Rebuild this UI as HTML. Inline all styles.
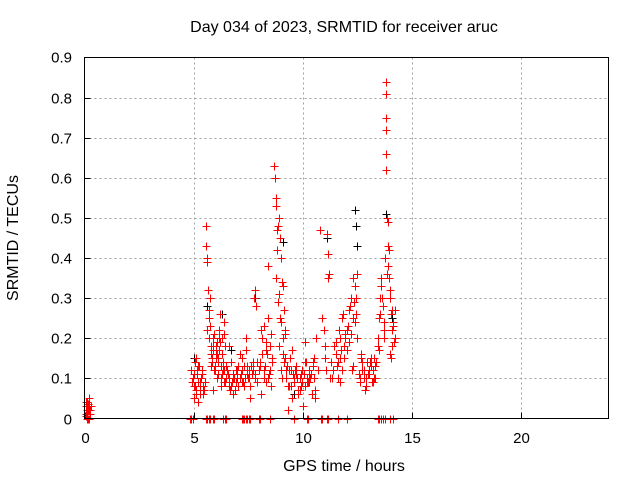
<!DOCTYPE html>
<html><head><meta charset="utf-8"><style>
body{margin:0;background:#fff;}
svg text{font-family:"Liberation Sans",sans-serif;font-size:15px;fill:#000;}
svg text.big{font-size:16px;}
</style></head><body>
<svg id="chart" width="640" height="480">
<rect width="640" height="480" fill="#fff"/>
<text class="big" x="344" y="32" text-anchor="middle">Day 034 of 2023, SRMTID for receiver aruc</text>
<text class="big" x="344" y="471" text-anchor="middle">GPS time / hours</text>
<text class="big" transform="translate(18,238) rotate(-90)" text-anchor="middle">SRMTID / TECUs</text>
<g id="grid"></g><g id="ticks"></g><g id="marks"></g>
<rect x="84.5" y="57.5" width="524" height="361" fill="none" stroke="#000"/>
</svg>
<script>
const xTicks=[0,5,10,15,20];
const yTicks=[0,0.1,0.2,0.3,0.4,0.5,0.6,0.7,0.8,0.9];
const yTickLabels=["0","0.1","0.2","0.3","0.4","0.5","0.6","0.7","0.8","0.9"];
const redHours=[0.05,0.08,0.1,0.12,0.15,0.18,0.2,0.22,0.25,0.28,0.1,0.15,0.06,0.13,0.19,0.24,0.09,0.17,
4.9,4.95,5.0,5.05,5.1,5.15,5.2,5.25,5.3,5.35,5.4,5.45,5.0,5.1,5.2,5.3,5.4,5.5,
5.55,5.58,5.6,5.62,5.65,5.68,5.6,5.7,5.75,5.8,5.85,5.9,5.95,6.0,6.05,6.1,6.15,6.2,6.25,6.3,6.35,6.4,6.45,6.5,5.8,5.9,6.0,6.1,6.2,6.3,6.4,
6.55,6.6,6.7,6.8,6.9,7.0,7.1,7.2,7.3,7.4,7.5,7.6,7.7,7.8,7.9,8.0,6.6,6.8,7.0,7.2,7.4,7.6,7.75,7.8,7.85,
8.05,8.1,8.2,8.3,8.4,8.5,8.55,8.6,8.1,8.3,8.5,8.6,
8.7,8.72,8.75,8.78,8.8,8.82,8.85,8.9,8.95,9.0,9.05,9.1,9.15,9.2,8.9,9.0,9.1,9.2,8.75,8.85,8.95,9.05,
9.25,9.3,9.4,9.5,9.6,9.7,9.8,9.9,10.0,10.1,10.2,10.3,10.4,10.5,9.3,9.5,9.7,9.9,10.1,10.3,10.5,10.6,10.7,
10.8,10.9,11.0,11.1,11.15,11.2,11.15,11.0,10.95,11.05,11.25,11.3,
11.4,11.5,11.6,11.7,11.8,11.9,12.0,12.1,12.2,12.3,12.35,12.4,12.45,12.5,11.6,11.8,12.0,12.2,12.4,11.7,11.9,12.1,12.3,12.45,12.5,
12.6,12.7,12.8,12.9,13.0,13.1,13.2,13.3,12.65,12.85,13.05,13.25,13.35,
13.45,13.5,13.55,13.6,13.65,13.7,13.75,13.5,13.6,13.7,
13.8,13.81,13.82,13.8,13.82,13.83,13.85,13.88,13.9,13.95,13.9,13.85,
13.95,14.0,14.05,14.1,14.15,14.2,14.0,14.1,14.2,14.05,14.15,
4.92,5.02,5.12,5.22,5.32,5.42,5.07,5.17,5.27,5.37,5.47,4.97,
5.72,5.78,5.83,5.88,5.93,5.98,6.03,6.08,6.13,6.18,6.23,6.28,6.33,6.38,6.43,6.48,5.77,5.87,5.97,6.07,6.17,6.27,6.37,
6.52,6.62,6.72,6.82,6.92,7.02,7.12,7.22,7.32,7.42,7.52,7.62,7.72,7.82,7.92,6.65,6.75,6.85,6.95,7.05,7.15,7.25,7.35,7.45,7.55,7.65,
8.02,8.12,8.22,8.32,8.42,8.52,8.15,8.25,8.35,8.45,8.2,8.4,
8.92,8.98,9.08,9.18,9.12,9.22,
9.28,9.38,9.48,9.58,9.68,9.78,9.88,9.98,10.08,10.18,10.28,10.38,10.48,10.58,9.35,9.55,9.75,9.95,10.15,10.35,10.55,9.45,9.65,9.85,10.05,10.25,10.45,
11.35,11.45,11.55,11.65,11.75,11.85,11.95,12.05,12.15,12.25,11.52,11.72,11.92,12.12,12.32,
12.55,12.62,12.72,12.82,12.92,13.02,13.12,13.22,13.32,12.68,12.78,12.88,12.98,13.08,13.18,13.28,
13.42,13.52,13.62,13.72,13.97,14.07,14.17,14.12,
4.85,4.9,4.95,5.55,5.6,5.7,5.75,5.9,5.95,6.35,6.45,6.5,7.2,7.25,7.3,7.4,7.45,7.55,7.6,8.0,8.05,8.5,9.6,10.2,10.25,10.85,10.9,11.1,11.15,11.6,12.0,13.45,13.5,13.6,13.65,13.75,14.0,0.2,0.25];
const redValues=[0.03,0.01,0.02,0.04,0.0,0.03,0.02,0.05,0.01,0.03,0.0,0.02,0.04,0.01,0.03,0.02,0.005,0.035,
0.12,0.1,0.08,0.14,0.06,0.11,0.09,0.13,0.07,0.1,0.12,0.08,0.05,0.15,0.04,0.06,0.11,0.09,
0.48,0.43,0.39,0.4,0.32,0.27,0.22,0.25,0.3,0.18,0.15,0.2,0.12,0.17,0.1,0.14,0.22,0.19,0.08,0.16,0.12,0.21,0.09,0.13,0.13,0.07,0.18,0.15,0.26,0.11,0.24,
0.11,0.08,0.14,0.1,0.07,0.12,0.16,0.09,0.13,0.17,0.1,0.08,0.14,0.11,0.09,0.12,0.18,0.06,0.1,0.15,0.2,0.05,0.3,0.32,0.28,
0.13,0.22,0.1,0.17,0.25,0.12,0.21,0.15,0.06,0.09,0.18,0.14,
0.63,0.6,0.55,0.53,0.47,0.42,0.48,0.5,0.45,0.4,0.34,0.33,0.27,0.22,0.18,0.12,0.2,0.15,0.35,0.29,0.25,0.1,
0.12,0.08,0.15,0.05,0.1,0.13,0.07,0.11,0.03,0.14,0.09,0.12,0.06,0.1,0.02,0.17,0.13,0.08,0.19,0.11,0.15,0.2,0.12,
0.47,0.25,0.18,0.46,0.41,0.36,0.35,0.15,0.22,0.12,0.1,0.14,
0.12,0.16,0.1,0.2,0.25,0.18,0.22,0.27,0.3,0.35,0.29,0.33,0.26,0.36,0.14,0.12,0.17,0.21,0.24,0.09,0.15,0.19,0.25,0.3,0.2,
0.1,0.14,0.12,0.08,0.11,0.15,0.09,0.13,0.16,0.07,0.12,0.1,0.14,
0.2,0.25,0.3,0.35,0.28,0.22,0.4,0.17,0.33,0.24,
0.84,0.81,0.75,0.72,0.66,0.62,0.5,0.49,0.43,0.42,0.38,0.36,
0.35,0.3,0.26,0.22,0.24,0.2,0.16,0.18,0.27,0.15,0.23,
0.09,0.11,0.07,0.13,0.1,0.06,0.08,0.12,0.09,0.11,0.07,0.1,
0.2,0.16,0.14,0.18,0.21,0.13,0.15,0.19,0.11,0.17,0.1,0.2,0.14,0.12,0.18,0.1,0.23,0.17,0.12,0.16,0.2,0.13,
0.09,0.12,0.1,0.08,0.11,0.09,0.13,0.1,0.12,0.08,0.11,0.1,0.13,0.12,0.1,0.14,0.07,0.09,0.1,0.12,0.08,0.11,0.09,0.1,0.13,0.12,
0.11,0.14,0.16,0.12,0.19,0.1,0.08,0.2,0.13,0.16,0.11,0.23,
0.38,0.31,0.24,0.16,0.21,0.14,
0.1,0.13,0.08,0.12,0.09,0.11,0.06,0.1,0.12,0.08,0.1,0.09,0.11,0.13,0.07,0.12,0.11,0.1,0.09,0.14,0.1,0.05,0.08,0.12,0.07,0.11,0.09,
0.14,0.1,0.18,0.13,0.22,0.17,0.26,0.2,0.23,0.28,0.12,0.19,0.15,0.21,0.27,
0.13,0.11,0.09,0.12,0.1,0.14,0.11,0.13,0.12,0.1,0.15,0.12,0.1,0.11,0.14,0.09,
0.15,0.18,0.26,0.3,0.2,0.32,0.27,0.19,
0,0,0,0,0,0,0,0,0,0,0,0,0,0,0,0,0,0,0,0,0,0,0,0,0,0,0,0,0,0,0,0,0,0,0,0,0,0,0];
const blackHours=[5.0,5.6,6.3,6.7,7.8,8.8,9.1,10.8,11.1,12.4,12.45,12.5,13.8,14.1,9.6];
const blackValues=[0.15,0.28,0.26,0.17,0.3,0.47,0.44,0.47,0.45,0.52,0.48,0.43,0.51,0.25,0.06];
const X0=84.5,X1=608.5,Y0=418.5,Y1=57.5,XMAX=24,YMAX=0.9;
function xs(h){return X0+(X1-X0)*h/XMAX;}
function ys(v){return Y0-(Y0-Y1)*v/YMAX;}
const NS="http://www.w3.org/2000/svg";
const grid=document.getElementById('grid'),ticks=document.getElementById('ticks'),marks=document.getElementById('marks');
function mk(t,a,p){const e=document.createElementNS(NS,t);for(const k in a)e.setAttribute(k,a[k]);p.appendChild(e);return e;}
xTicks.forEach(function(t){
  const x=Math.round(xs(t))+0.5;
  if(t>0){const g=mk('line',{x1:x,x2:x,y1:Y1,y2:Y0,stroke:'#a0a0a0','stroke-dasharray':'2,3'},grid);
  
  }
  const tk=mk('line',{x1:x,x2:x,y1:Y0,y2:Y0-6,stroke:'#000'},ticks);
  
  
  const tx=mk('text',{x:x,y:443,'text-anchor':'middle'},ticks);tx.textContent=t;
  
  
});
yTicks.forEach(function(t,i){
  const y=Math.round(ys(t))+0.5;
  if(i>0){const g=mk('line',{x1:X0,x2:X1,y1:y,y2:y,stroke:'#a0a0a0','stroke-dasharray':'2,3'},grid);
  
  }
  const tk=mk('line',{x1:X0,x2:X0+6,y1:y,y2:y,stroke:'#000'},ticks);
  
  
  const tx=mk('text',{x:72,y:y+5,'text-anchor':'end'},ticks);tx.textContent=yTickLabels[i];
  
  
});
function cross(h,v,c,name){
  const x=Math.round(xs(h))+0.5,y=Math.round(ys(v))+0.5;
  const p=mk('path',{d:'M'+(x-4)+' '+y+'H'+(x+4)+'M'+x+' '+(y-4)+'V'+(y+4),stroke:c,'stroke-width':1,fill:'none'},marks);
  
  
}
blackHours.forEach(function(h,i){cross(h,blackValues[i],'#000','black-point');});
redHours.forEach(function(h,i){cross(h,redValues[i],'#ff0000','red-point');});
</script>
</body></html>
